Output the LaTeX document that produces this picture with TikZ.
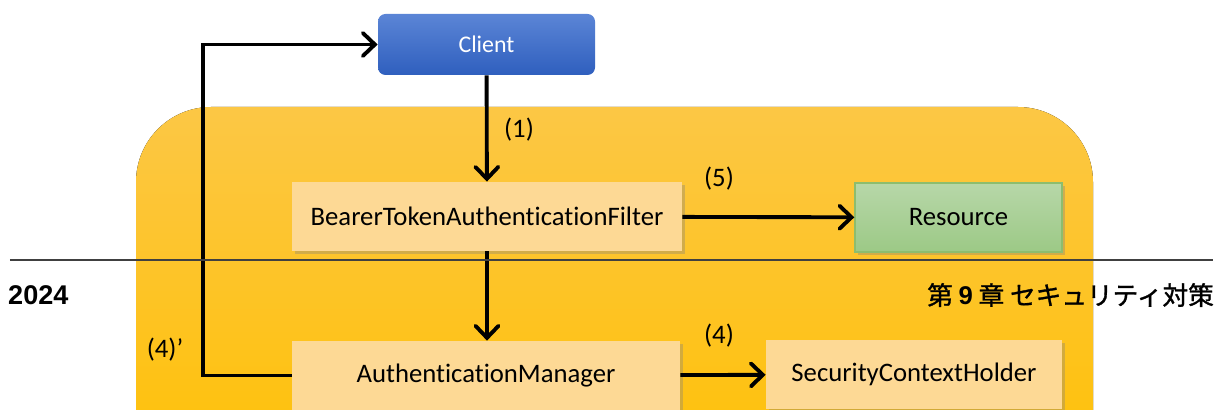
\documentclass[tikz,border=0pt]{standalone}
\usepackage{fontspec}
\setmainfont{Carlito}[Ligatures=NoCommon]
\newfontfamily\headfont{Liberation Sans}
\newfontfamily\cjkfont{Noto Sans CJK JP}[BoldFont=Noto Sans CJK JP, BoldFeatures={FakeBold=1.2}]
\usepackage{tikz}
\usepackage{xcolor}
\usetikzlibrary{shapes, arrows.meta, positioning, shadows}

\definecolor{clienttop}{HTML}{5B85D6}
\definecolor{clientbot}{HTML}{2F5FBE}
\definecolor{areatop}{HTML}{FCC745}
\definecolor{areabot}{HTML}{FFC000}
\definecolor{boxfill}{HTML}{FDD995}
\definecolor{restop}{HTML}{B7D7A8}
\definecolor{resbot}{HTML}{9CC986}
\definecolor{resline}{HTML}{8DBD6E}

\tikzset{
  flowbox/.style={rectangle, fill=boxfill, minimum height=1.38cm,
    drop shadow={opacity=0.35, shadow xshift=0.05cm, shadow yshift=-0.06cm},
    font=\fontsize{15.2}{17}\selectfont},
  flowarrow/.style={line width=2.2pt,
    -{Straight Barb[length=2.4mm, width=4.6mm, line width=2.2pt, line cap=round]}},
  steplabel/.style={font=\fontsize{15.2}{17}\selectfont}
}

\begin{document}
\begin{tikzpicture}
        \useasboundingbox (0,0) rectangle (24.5,8.2);
        \begin{scope}
            \clip (0,0) rectangle (24.5,8.2);
            % yellow area
            \fill[top color=areatop, bottom color=areabot, rounded corners=1.5cm]
                (2.72,-2) rectangle (21.86,6.06);
            % boxes
            \node[rectangle, rounded corners=0.15cm, top color=clienttop, bottom color=clientbot,
                minimum width=4.34cm, minimum height=1.22cm, text=white,
                font=\fontsize{13.6}{15}\selectfont] (client) at (9.73,7.31) {Client};
            \node[flowbox, minimum width=7.8cm] (filter) at (9.74,3.87) {BearerTokenAuthenticationFilter};
            \node[flowbox, minimum width=4.14cm, top color=restop, bottom color=resbot, draw=resline,
                line width=0.8pt] (resource) at (19.17,3.85) {Resource};
            \node[flowbox, minimum width=7.76cm] (manager) at (9.72,0.69) {AuthenticationManager};
            \node[flowbox, minimum width=5.92cm] (holder) at (18.28,0.71) {SecurityContextHolder};
            % connectors
            \draw[flowarrow] (client) -- (filter);
            \draw[flowarrow] (filter) -- (resource);
            \draw[flowarrow] (filter) -- (manager.north -| filter);
            \draw[flowarrow] (manager) -- (holder);
            \draw[flowarrow] (manager.west) -- (4.06,0.69) |- (client.west);
            % labels
            \node[steplabel] (one) at (10.38,5.6) {(1)};
            \node[steplabel] (five) at (14.38,4.62) {(5)};
            \node[steplabel] (four) at (14.38,1.48) {(4)};
            \node[steplabel] (fourp) at (3.3,1.2) {(4)’};
            % page header
            \draw[black!75, line width=0.6pt] (0.2,3) -- (24.26,3);
            \node[anchor=west, font=\headfont\bfseries\fontsize{15.4}{17}\selectfont] (year) at (0.04,2.3) {2024};
            \node[anchor=east, font=\cjkfont\bfseries\fontsize{14.6}{17}\selectfont] (chapter) at (24.4,2.3)
                {第 {\headfont\bfseries 9} 章 セキュリティ対策};
        \end{scope}
    \end{tikzpicture}
\end{document}
